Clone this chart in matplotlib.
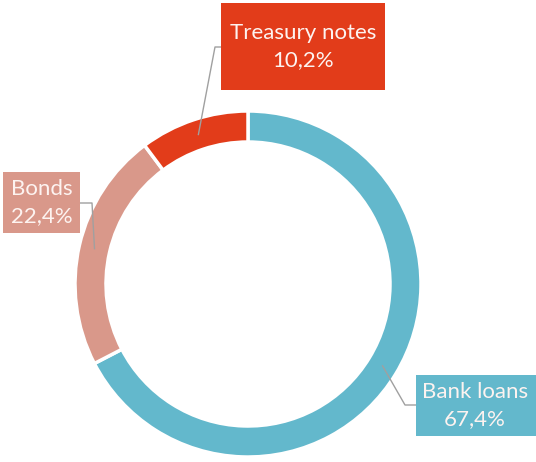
import numpy as np
import matplotlib
matplotlib.use("Agg")
import matplotlib.pyplot as plt
from matplotlib.patches import Rectangle

labels = ["Bank loans", "Bonds", "Treasury notes"]
values = [67.4, 22.4, 10.2]
value_labels = ["67,4%", "22,4%", "10,2%"]
colors = ["#63b8cc", "#d9988a", "#e23c1a"]

W, H = 536, 462
fig = plt.figure(figsize=(W / 100, H / 100), dpi=100)
ax = fig.add_axes([0, 0, 1, 1])
ax.set_xlim(0, W)
ax.set_ylim(0, H)
ax.set_aspect("equal")
ax.axis("off")

cx, cy = 248, H - 284
R, width = 173, 31
wedges, _ = ax.pie(values, colors=colors, startangle=90, counterclock=False,
                   radius=R, center=(cx, cy), frame=True,
                   wedgeprops=dict(width=width, edgecolor="white", linewidth=2.5))
ax.set_xlim(0, W)
ax.set_ylim(0, H)
ax.axis("off")

# label boxes (image coords: x0, y0_top, x1, y1_bottom) and leader elbows
boxes = {
    "Bank loans": (416, 375, 536, 436),
    "Bonds": (3, 172, 80, 233),
    "Treasury notes": (221, 3, 385, 90),
}
elbows = {
    "Bank loans": [(405, 405), (416, 405)],
    "Bonds": [(92, 203), (80, 203)],
    "Treasury notes": [(215, 47), (221, 47)],
}

rmid = R - width / 2
for w, lab, vl, col in zip(wedges, labels, value_labels, colors):
    ang = np.deg2rad((w.theta1 + w.theta2) / 2)
    px, py = cx + rmid * np.cos(ang), cy + rmid * np.sin(ang)
    pts = [(px, py)] + [(x, H - y) for x, y in elbows[lab]]
    xs, ys = zip(*pts)
    ax.plot(xs, ys, color="#a0a0a0", lw=1, zorder=3)
    x0, y0, x1, y1 = boxes[lab]
    ax.add_patch(Rectangle((x0, H - y1), x1 - x0, y1 - y0, facecolor=col,
                           edgecolor="none", zorder=4))
    tx = (x0 + x1) / 2
    if lab == "Bank loans":
        tx = 475
    ax.text(tx, H - (y0 + y1) / 2, f"{lab}\n{vl}", ha="center", va="center",
            color="#fdf3f0", fontsize=16, family=["Lato", "DejaVu Sans"],
            linespacing=1.4, zorder=5)

fig.savefig("out.png", dpi=100, facecolor="white")
